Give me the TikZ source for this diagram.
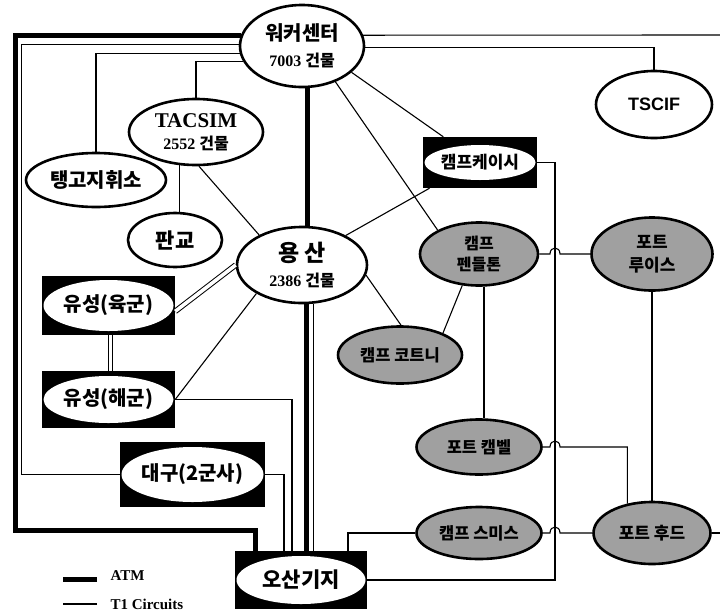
\documentclass[tikz,border=0pt]{standalone}
\usepackage{fontspec}
\setmainfont{Liberation Serif}
\newfontfamily\kr{Noto Sans CJK KR}
\newfontfamily\arialfont{Liberation Sans}
\usetikzlibrary{shapes.geometric, calc}
\definecolor{sitegray}{RGB}{160,160,160}
\newcommand\setfs[1]{\fontsize{#1}{#1}\selectfont}
\newcommand\hopat[2]{-- (#1-5,#2) .. controls (#1-5,#2-8) and (#1+5,#2-8) .. (#1+5,#2)}
\tikzset{
  site/.style={ellipse, draw, line width=2.6pt, fill=white, inner sep=0pt, align=center},
  ussite/.style={site, fill=sitegray},
  boxsite/.style={rectangle, fill=black, inner sep=0pt, align=center,
    font=\kr\bfseries\setfs{20},
    path picture={\fill[white] let \p1=(path picture bounding box.north east),
      \p2=(path picture bounding box.south west) in
      ($(\p1)!0.5!(\p2)$) ellipse [x radius={(\x1-\x2)/2-1.5pt}, y radius={(\y1-\y2)/2-#1}];}},
  boxsite/.default=4pt,
  atm/.style={line width=5pt},
  tone/.style={line width=1.1pt},
  tpair/.style={double, double distance=3.6pt, line width=1pt},
}
\begin{document}
\begin{tikzpicture}[x=1pt, y=-1pt]
  \path[fill=white, use as bounding box] (0,0) rectangle (720,614);

  \node[site, minimum width=124pt, minimum height=82pt, font=\bfseries\fontsize{16}{26}\selectfont]
    (walker) at (302,46) {{\kr\setfs{20}워커센터}\\7003 {\kr 건물}};
  \node[site, minimum width=134pt, minimum height=66pt, font=\bfseries\fontsize{16}{22}\selectfont]
    (tacsim) at (196,132) {{\setfs{21}TACSIM}\\2552 {\kr 건물}};
  \node[site, minimum width=140pt, minimum height=54pt, font=\kr\bfseries\setfs{20}]
    (tango) at (96,180) {탱고지휘소};
  \node[site, minimum width=94pt, minimum height=54pt, font=\kr\bfseries\setfs{21}]
    (pangyo) at (175,240) {판교};
  \node[site, minimum width=130pt, minimum height=76pt, font=\bfseries\fontsize{16}{25}\selectfont]
    (yongsan) at (302,265) {{\kr\setfs{23}용 산}\\2386 {\kr 건물}};
  \node[site, minimum width=116pt, minimum height=67pt, font=\arialfont\bfseries\setfs{18}]
    (tscif) at (654,104.5) {TSCIF};

  \node[boxsite, minimum width=133pt, minimum height=59pt] (yuarmy) at (108.5,305.5) {유성(육군)};
  \node[boxsite=5pt, minimum width=133pt, minimum height=57pt] (yunavy) at (108.5,399.5) {유성(해군)};
  \node[boxsite=5pt, minimum width=145pt, minimum height=65pt] (daegu) at (192.5,474.5) {대구(2군사)};
  \node[boxsite=5pt, minimum width=132pt, minimum height=58pt, font=\kr\bfseries\setfs{21}]
    (osan) at (301,580) {오산기지};
  \node[boxsite=8pt, minimum width=114pt, minimum height=51pt, font=\kr\bfseries\setfs{17}]
    (casey) at (480,162.5) {캠프케이시};

  \node[ussite, minimum width=118pt, minimum height=63pt, font=\kr\bfseries\fontsize{16}{21}\selectfont]
    (pendleton) at (479,254) {캠프\\펜들톤};
  \node[ussite, minimum width=121pt, minimum height=73pt, font=\kr\bfseries\fontsize{17}{23}\selectfont]
    (lewis) at (652,254) {포트\\루이스};
  \node[ussite, minimum width=124pt, minimum height=57pt, font=\kr\bfseries\setfs{16.5}]
    (courtney) at (400,355) {캠프 코트니};
  \node[ussite, minimum width=125pt, minimum height=55pt, font=\kr\bfseries\setfs{16.5}]
    (campbell) at (479,447) {포트 캠벨};
  \node[ussite, minimum width=125pt, minimum height=52pt, font=\kr\bfseries\setfs{16.5}]
    (smith) at (479,533) {캠프 스미스};
  \node[ussite, minimum width=117pt, minimum height=62pt, font=\kr\bfseries\setfs{17}]
    (hood) at (652,533) {포트 후드};

  \coordinate (eastA) at (720,35);
  \coordinate (eastB) at (720,533);
  \coordinate (atmCorner) at (15,530);

  % ATM
  \draw[atm] (walker.170) -| (atmCorner) -| ([xshift=-46pt]osan.north);
  \draw[atm] ([xshift=5pt]walker.south) -- ([xshift=5pt]walker.south |- yongsan.north);
  \draw[atm] ([xshift=4pt]yongsan.south) -- ([xshift=4pt]yongsan.south |- osan.north);

  % T1
  \draw[tone] (walker.179) -| ([xshift=-98pt]daegu.west) -- (daegu.west);
  \draw[tone] (walker.187) -| (tango.north);
  \draw[tone] (walker.195) -| (tacsim.north);
  \draw[tone] (walker.10) -- (eastA);
  \draw[tone] (walker.-1) -| (tscif.north);
  \draw[tone] (walker.-47) -- (pendleton.150);
  \draw[tone] (walker.-28) -- (casey.145);
  \draw[tone] (tacsim.244) -- (tacsim.244 |- pangyo.north);
  \draw[tone] (tacsim.275) -- (yongsan.145);
  \draw[tone] (yongsan.34) -- (casey.207);
  \draw[tone] (yongsan.-9) -- (courtney.88);
  \draw[tone] (yongsan.212) -- (yunavy.east);
  \draw[tone] (yongsan.-74) -- (yongsan.-74 |- osan.north);
  \draw[tpair] (yongsan.180) -- (yuarmy.-5);
  \draw[tpair] ([xshift=2pt]yuarmy.south) -- ([xshift=2pt]yunavy.north);
  \draw[tone] (yunavy.east) -| ([xshift=-9pt]osan.north);
  \draw[tone] (daegu.east) -| ([xshift=-17pt]osan.north);
  \draw[tone] (pendleton.242) -- (courtney.27);
  \draw[tone] ([xshift=5pt]pendleton.south) -- ([xshift=5pt]campbell.north);
  \draw[tone] (casey.east) -| (555,580) -- (osan.east);
  \draw[tone] (pendleton.east) \hopat{555}{254} -- (lewis.west);
  \draw[tone] (campbell.east) \hopat{555}{447} -| (hood.130);
  \draw[tone] (smith.east) \hopat{555}{533} -- (hood.west);
  \draw[tone] (smith.west) -| ([xshift=47pt]osan.north);
  \draw[tone] (lewis.south) -- (hood.north);
  \draw[tone] (hood.east) -- (eastB);

  % legend
  \node[font=\bfseries\setfs{15}, anchor=west] (atmKey) at (107,576) {ATM};
  \node[font=\bfseries\setfs{15}, anchor=west] (toneKey) at (107,604) {T1 Circuits};
  \draw[atm] ([xshift=-10pt,yshift=-3pt]atmKey.west) -- ++(-34,0);
  \draw[tone] ([xshift=-10pt]toneKey.west) -- ++(-34,0);
\end{tikzpicture}
\end{document}
